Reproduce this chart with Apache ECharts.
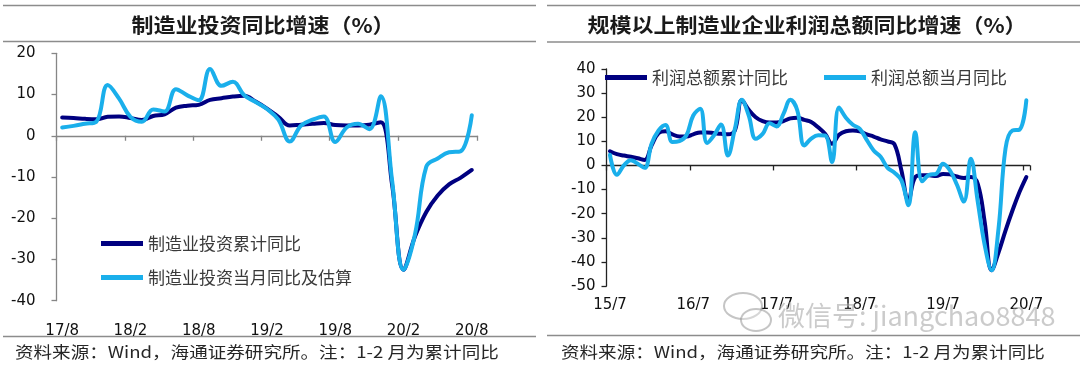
<!DOCTYPE html>
<html>
<head>
<meta charset="utf-8">
<script src="https://cdn.jsdelivr.net/npm/echarts@6/dist/echarts.min.js"></script>
<style>
html,body{margin:0;padding:0;background:#fff;}
#chart{width:1080px;height:366px;}
</style>
</head>
<body>
<div id="chart"></div>
<script>
// ---------- Left chart: manufacturing investment YoY (%) ----------
const leftCategories = ['17/8','17/9','17/10','17/11','17/12',
  '18/1','18/2','18/3','18/4','18/5','18/6','18/7','18/8','18/9','18/10','18/11','18/12',
  '19/1','19/2','19/3','19/4','19/5','19/6','19/7','19/8','19/9','19/10','19/11','19/12',
  '20/1','20/2','20/3','20/4','20/5','20/6','20/7','20/8'];
const investCumulative = [4.4,4.3,4.1,4.0,4.6,
  4.7,4.3,3.8,4.8,5.2,6.8,7.3,7.5,8.7,9.1,9.5,9.7,
  8.3,6.6,4.6,2.5,2.7,2.9,3.1,2.6,2.5,2.5,2.7,3.3,
  -12.0,-32.5,-24.5,-18.5,-14.5,-11.8,-10.2,-8.3];
const investMonthly = [2.0,2.4,2.9,3.4,12.3,
  9.0,4.6,3.4,6.4,5.9,11.3,9.8,8.6,16.2,12.1,13.1,9.8,
  8.2,6.5,3.9,-1.4,2.5,3.9,4.7,-1.5,2.0,2.9,1.6,9.6,
  -11.0,-32.5,-24.0,-7.5,-5.5,-4.0,-3.8,5.0];
const leftYTicks = {min:-40, max:20, step:10};

// ---------- Right chart: manufacturing profits YoY (%) ----------
const rightCategories = ['15/7','15/8','15/9','15/10','15/11','15/12',
  '16/1','16/2','16/3','16/4','16/5','16/6','16/7','16/8','16/9','16/10','16/11','16/12',
  '17/1','17/2','17/3','17/4','17/5','17/6','17/7','17/8','17/9','17/10','17/11','17/12',
  '18/1','18/2','18/3','18/4','18/5','18/6','18/7','18/8','18/9','18/10','18/11','18/12',
  '19/1','19/2','19/3','19/4','19/5','19/6','19/7','19/8','19/9','19/10','19/11','19/12',
  '20/1','20/2','20/3','20/4','20/5','20/6','20/7'];
const profitCumulative = [5.9,4.7,4.1,3.6,3.0,2.3,
  8.3,13.4,14.2,12.9,12.0,12.0,12.9,13.7,13.7,13.4,13.1,12.9,
  14.5,27.0,23.1,20.0,18.4,17.8,17.8,18.4,19.5,19.8,18.9,18.0,
  15.8,13.1,9.0,12.7,14.2,14.5,14.1,12.9,12.0,10.8,10.0,8.7,
  -2.1,-14.5,-4.8,-4.1,-4.1,-4.4,-3.5,-3.7,-4.6,-5.2,-4.8,-7.6,
  -23.5,-43.5,-36.0,-27.0,-18.7,-11.1,-4.8];
const profitMonthly = [4.4,-3.9,0.0,2.2,0.7,-1.0,
  9.0,14.5,16.8,9.7,10.1,12.4,20.7,23.5,9.3,12.5,17.0,4.1,
  15.2,27.2,20.7,11.1,13.1,17.5,16.2,21.4,27.2,22.8,8.3,11.1,
  12.5,12.4,1.4,24.0,19.8,16.9,15.2,10.6,6.2,3.6,-1.0,-3.0,
  -6.2,-16.5,13.8,-6.6,-3.9,-3.5,0.7,-2.1,-8.0,-15.0,2.8,-15.0,
  -33.0,-43.5,-26.0,7.0,14.5,14.8,27.0];
const rightYTicks = {min:-50, max:40, step:10};

const seriesNames = {
  leftCum: '制造业投资累计同比',
  leftMon: '制造业投资当月同比及估算',
  rightCum: '利润总额累计同比',
  rightMon: '利润总额当月同比'
};
const titles = ['制造业投资同比增速（%）', '规模以上制造业企业利润总额同比增速（%）'];
const sourceText = '资料来源：Wind，海通证券研究所。注：1-2 月为累计同比';
const watermarkText = '微信号: jiangchao8848';

const DARK = '#000080';
const LIGHT = '#1AAFEB';
const FONT = "'DejaVu Sans', 'Noto Sans CJK SC', sans-serif";
const CJK = "'Noto Sans CJK SC', sans-serif";
const GREY_AX = '#868686';
const DARK_AX = '#222';

const chart = echarts.init(document.getElementById('chart'), null, {renderer:'canvas'});

function lineSeries(name, data, color, xIdx, yIdx) {
  return {
    name: name, type: 'line', data: data,
    xAxisIndex: xIdx, yAxisIndex: yIdx,
    symbol: 'none', smooth: 0.4,
    lineStyle: {width: 4, color: color, cap: 'round', join: 'round'},
    itemStyle: {color: color},
    emphasis: {disabled: true}
  };
}

// axis that only carries the labels at the bottom of the plot
function labelAxis(grid, cats, every, margin) {
  return {gridIndex: grid, type: 'category', data: cats, boundaryGap: true, position: 'bottom',
    axisLine: {show: false, onZero: false}, axisTick: {show: false},
    axisLabel: {show: true, interval: every, margin: margin, fontSize: 15, color: '#111', fontFamily: FONT},
    splitLine: {show: false}};
}
// axis that draws the zero line with its tick marks
function zeroAxis(grid, cats, every, color) {
  return {gridIndex: grid, type: 'category', data: cats, boundaryGap: true, position: 'top',
    axisLine: {show: true, onZero: true, lineStyle: {color: color, width: 1.3}},
    axisTick: {show: true, inside: true, interval: every, length: 5, lineStyle: {color: color, width: 1.3}},
    axisLabel: {show: false}, splitLine: {show: false}};
}

const legendText = {fontSize: 17, color: '#3a3a3a', fontFamily: CJK};

const option = {
  animation: false,
  backgroundColor: '#fff',
  grid: [
    {left: 56.5, top: 53.3, width: 421, height: 247.4, outerBoundsMode: 'none', containLabel: false},
    {left: 606.5, top: 69, width: 423.3, height: 217, outerBoundsMode: 'none', containLabel: false}
  ],
  xAxis: [
    labelAxis(0, leftCategories, 5, 23),
    zeroAxis(0, leftCategories, 5, GREY_AX),
    labelAxis(1, rightCategories, 11, 12),
    zeroAxis(1, rightCategories, 11, DARK_AX)
  ],
  yAxis: [
    {gridIndex: 0, type: 'value', min: leftYTicks.min, max: leftYTicks.max, interval: leftYTicks.step,
     axisLine: {show: true, onZero: false, lineStyle: {color: GREY_AX, width: 1.3}},
     axisTick: {show: true, length: 5, lineStyle: {color: GREY_AX, width: 1.3}},
     axisLabel: {margin: 21, fontSize: 15, color: '#111', fontFamily: FONT},
     splitLine: {show: false}},
    {gridIndex: 1, type: 'value', min: rightYTicks.min, max: rightYTicks.max, interval: rightYTicks.step,
     axisLine: {show: true, onZero: false, lineStyle: {color: DARK_AX, width: 1.3}},
     axisTick: {show: true, length: 5, lineStyle: {color: DARK_AX, width: 1.3}},
     axisLabel: {margin: 11, fontSize: 15, color: '#111', fontFamily: FONT},
     splitLine: {show: false}}
  ],
  legend: [
    {data: [seriesNames.leftCum, seriesNames.leftMon], orient: 'vertical', left: 96, top: 230,
     icon: 'rect', itemWidth: 42, itemHeight: 5, itemGap: 17, textStyle: legendText, selectedMode: false},
    {data: [seriesNames.rightCum], left: 600, top: 64,
     icon: 'rect', itemWidth: 42, itemHeight: 5, textStyle: legendText, selectedMode: false},
    {data: [seriesNames.rightMon], left: 819, top: 64,
     icon: 'rect', itemWidth: 42, itemHeight: 5, textStyle: legendText, selectedMode: false}
  ],
  series: [
    lineSeries(seriesNames.leftCum, investCumulative, DARK, 0, 0),
    lineSeries(seriesNames.leftMon, investMonthly, LIGHT, 0, 0),
    lineSeries(seriesNames.rightCum, profitCumulative, DARK, 2, 1),
    lineSeries(seriesNames.rightMon, profitMonthly, LIGHT, 2, 1)
  ],
  graphic: [
    {type: 'line', shape: {x1: 3, y1: 5.5, x2: 536, y2: 5.5}, style: {stroke: '#8c8c8c', lineWidth: 1.5}},
    {type: 'line', shape: {x1: 3, y1: 41.5, x2: 536, y2: 41.5}, style: {stroke: '#8c8c8c', lineWidth: 1.5}},
    {type: 'line', shape: {x1: 3, y1: 336.5, x2: 536, y2: 336.5}, style: {stroke: '#8c8c8c', lineWidth: 1.5}},
    {type: 'line', shape: {x1: 547, y1: 5.5, x2: 1080, y2: 5.5}, style: {stroke: '#8c8c8c', lineWidth: 1.5}},
    {type: 'line', shape: {x1: 547, y1: 42, x2: 1080, y2: 42}, style: {stroke: '#8c8c8c', lineWidth: 1.5}},
    {type: 'line', shape: {x1: 547, y1: 335.5, x2: 1080, y2: 335.5}, style: {stroke: '#8c8c8c', lineWidth: 1.5}},
    {type: 'text', x: 263, y: 25, scaleX: 1.1, style: {text: titles[0], fill: '#1a1a1a', fontSize: 20, fontWeight: 'bold',
      fontFamily: CJK, textAlign: 'center', textVerticalAlign: 'middle'}},
    {type: 'text', x: 807, y: 25, scaleX: 1.1, style: {text: titles[1], fill: '#1a1a1a', fontSize: 20, fontWeight: 'bold',
      fontFamily: CJK, textAlign: 'center', textVerticalAlign: 'middle'}},
    {type: 'text', x: 15, y: 352, scaleX: 1.16, style: {text: sourceText, fill: '#262626', fontSize: 16,
      fontFamily: CJK, textAlign: 'left', textVerticalAlign: 'middle'}},
    {type: 'text', x: 561, y: 352, scaleX: 1.16, style: {text: sourceText, fill: '#262626', fontSize: 16,
      fontFamily: CJK, textAlign: 'left', textVerticalAlign: 'middle'}},
    {type: 'ellipse', shape: {cx: 743, cy: 306, rx: 19, ry: 13}, style: {fill: 'rgba(255,255,255,0.3)', stroke: 'rgba(150,150,150,0.55)', lineWidth: 2}, z: 100},
    {type: 'ellipse', shape: {cx: 756, cy: 320, rx: 15, ry: 11}, style: {fill: 'rgba(255,255,255,0.3)', stroke: 'rgba(150,150,150,0.55)', lineWidth: 2}, z: 100},
    {type: 'text', x: 778, y: 316, z: 100, style: {text: watermarkText, fill: 'rgba(140,140,140,0.45)',
      stroke: 'rgba(255,255,255,0.4)', lineWidth: 1, fontSize: 27, fontFamily: CJK,
      textAlign: 'left', textVerticalAlign: 'middle'}}
  ]
};
chart.setOption(option);
</script>
</body>
</html>
